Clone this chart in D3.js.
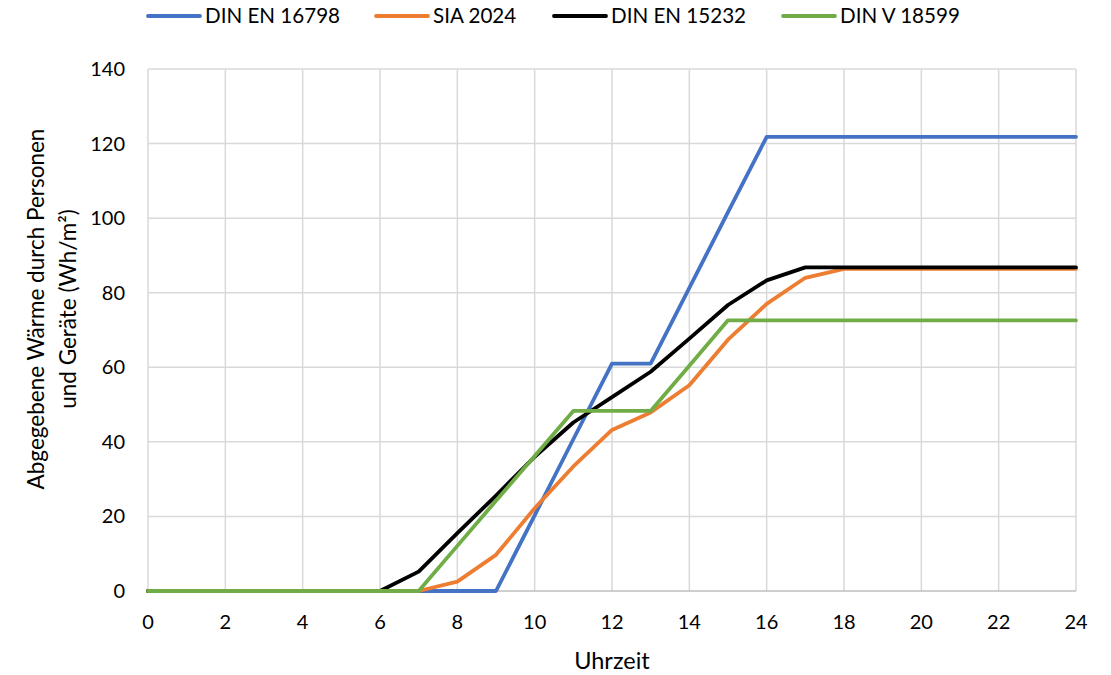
<!DOCTYPE html>
<html>
<head>
<meta charset="utf-8">
<script src="https://cdn.jsdelivr.net/npm/d3@7"></script>
<style>
  body { margin: 0; background: #fff; }
  text { font-family: Lato, "Open Sans", sans-serif; fill: #000; }
</style>
</head>
<body>
<svg id="chart" width="1111" height="675"></svg>
<script>
// hours 0..24
const hours = d3.range(0, 25);

const dinEn16798 = [0,0,0,0,0,0,0,0,0,0, 20.3,40.7,61,61,81.3,101.6,121.8, 121.8,121.8,121.8,121.8,121.8,121.8,121.8,121.8];
const sia2024    = [0,0,0,0,0,0,0,0, 2.5,9.7,22.2,33.4,43.2,47.9,55.2,67.4,77,84,86.4, 86.4,86.4,86.4,86.4,86.4,86.4];
const dinEn15232 = [0,0,0,0,0,0,0, 5.2,15.5,25.6,36,45.2,52,58.8,67.7,76.7,83.3,86.8, 86.8,86.8,86.8,86.8,86.8,86.8,86.8];
const dinV18599  = [0,0,0,0,0,0,0,0, 12.1,24.2,36.2,48.3,48.3,48.3,60.4,72.6, 72.6,72.6,72.6,72.6,72.6,72.6,72.6,72.6,72.6];

const seriesNames  = ["DIN EN 16798", "SIA 2024", "DIN EN 15232", "DIN V 18599"];
const seriesValues = [dinEn16798, sia2024, dinEn15232, dinV18599];
const seriesColors = ["#4472c4", "#ed7d31", "#000000", "#70ad47"];

const xTicks = d3.range(0, 25, 2);
const yTicks = d3.range(0, 141, 20);

const margin = {top: 69, left: 148, right: 35, bottom: 84};
const width = 1111, height = 675;

const svg = d3.select("#chart");

const x = d3.scaleLinear().domain([0, 24]).range([margin.left, width - margin.right]);
const y = d3.scaleLinear().domain([0, 140]).range([height - margin.bottom, margin.top]);

// gridlines
svg.append("g")
  .selectAll("line.h")
  .data(yTicks.filter(d => d > 0))
  .enter().append("line")
  .attr("x1", x(0)).attr("x2", x(24))
  .attr("y1", d => y(d)).attr("y2", d => y(d))
  .attr("stroke", "#d9d9d9").attr("stroke-width", 1.5);

svg.append("g")
  .selectAll("line.v")
  .data(xTicks)
  .enter().append("line")
  .attr("x1", d => x(d)).attr("x2", d => x(d))
  .attr("y1", y(0)).attr("y2", y(140))
  .attr("stroke", "#d9d9d9").attr("stroke-width", 1.5);

// bottom axis line
svg.append("line")
  .attr("x1", x(0)).attr("x2", x(24))
  .attr("y1", y(0)).attr("y2", y(0))
  .attr("stroke", "#bfbfbf").attr("stroke-width", 1.5);

// tick labels
svg.append("g")
  .selectAll("text")
  .data(yTicks)
  .enter().append("text")
  .attr("x", 125)
  .attr("y", d => y(d))
  .attr("dy", "0.35em")
  .attr("text-anchor", "end")
  .style("font-size", "20px")
  .text(d => d);

svg.append("g")
  .selectAll("text")
  .data(xTicks)
  .enter().append("text")
  .attr("x", d => x(d))
  .attr("y", 622)
  .attr("dy", "0.35em")
  .attr("text-anchor", "middle")
  .style("font-size", "20px")
  .text(d => d);

// axis titles
svg.append("text")
  .attr("x", 612).attr("y", 661)
  .attr("dy", "0.35em")
  .attr("text-anchor", "middle")
  .style("font-size", "23.5px")
  .text("Uhrzeit");

const yTitle = svg.append("text")
  .attr("transform", "translate(0,309) rotate(-90)")
  .attr("text-anchor", "middle")
  .style("font-size", "22.5px");
yTitle.append("tspan").attr("x", 0).attr("y", 44).text("Abgegebene Wärme durch Personen");
yTitle.append("tspan").attr("x", 0).attr("y", 76).text("und Geräte (Wh/m²)");

// lines
const line = d3.line()
  .x((d, i) => x(hours[i]))
  .y(d => y(d));

svg.append("g")
  .selectAll("path")
  .data(seriesValues)
  .enter().append("path")
  .attr("d", d => line(d))
  .attr("fill", "none")
  .attr("stroke", (d, i) => seriesColors[i])
  .attr("stroke-width", 3.8)
  .attr("stroke-linejoin", "round")
  .attr("stroke-linecap", "round");

// legend
const legendX = [148, 376, 554, 783];
const legend = svg.append("g")
  .selectAll("g")
  .data(seriesNames)
  .enter().append("g")
  .attr("transform", (d, i) => `translate(${legendX[i]},16)`);

legend.append("line")
  .attr("x1", 0).attr("x2", 52)
  .attr("y1", 0).attr("y2", 0)
  .attr("stroke", (d, i) => seriesColors[i])
  .attr("stroke-width", 3.8)
  .attr("stroke-linecap", "round");

legend.append("text")
  .attr("x", 57)
  .attr("y", 0)
  .attr("dy", "0.35em")
  .style("font-size", "20.6px")
  .text(d => d);
</script>
</body>
</html>
